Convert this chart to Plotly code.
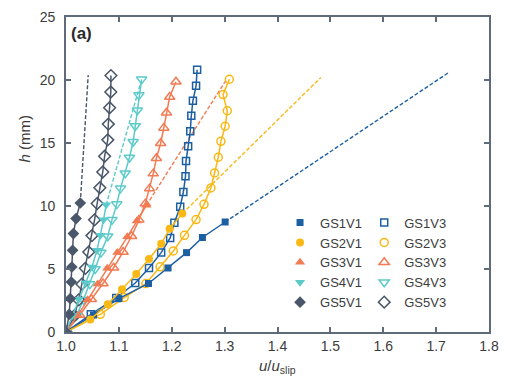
import plotly.graph_objects as go

# ---------------- data ----------------
names_v1 = ["GS1V1", "GS2V1", "GS3V1", "GS4V1", "GS5V1"]
names_v3 = ["GS1V3", "GS2V3", "GS3V3", "GS4V3", "GS5V3"]

gs1v1_u = [1.0, 1.052, 1.100, 1.156, 1.193, 1.228, 1.258, 1.301]
gs1v1_h = [0, 1.35, 2.65, 3.85, 5.08, 6.3, 7.5, 8.73]
gs2v1_u = [1.0, 1.046, 1.079, 1.106, 1.133, 1.157, 1.180, 1.196, 1.220]
gs2v1_h = [0, 1.0, 2.2, 3.4, 4.6, 5.8, 7.0, 8.2, 9.4]
gs3v1_u = [1.0, 1.022, 1.041, 1.060, 1.078, 1.097, 1.116, 1.134, 1.152]
gs3v1_h = [0, 1.3, 2.55, 3.8, 5.05, 6.3, 7.55, 8.8, 10.05]
gs4v1_u = [1.0, 1.012, 1.024, 1.037, 1.049, 1.0586, 1.065, 1.071, 1.076]
gs4v1_h = [0, 1.3, 2.6, 3.9, 5.16, 6.48, 7.67, 8.9, 10.1]
gs5v1_u = [1.0, 1.006, 1.008, 1.010, 1.011, 1.0125, 1.014, 1.019, 1.027]
gs5v1_h = [0, 1.40, 2.65, 3.97, 5.16, 6.48, 7.81, 9.0, 10.24]

gs1v3_u = [1.0, 1.047, 1.095, 1.131, 1.157, 1.180, 1.197, 1.205, 1.216, 1.222,
           1.226, 1.227, 1.231, 1.235, 1.237, 1.240, 1.246, 1.248]
gs1v3_h = [0, 1.40, 2.70, 3.89, 5.08, 6.30, 7.46, 8.68, 9.94, 11.11,
           12.36, 13.57, 14.74, 15.93, 17.16, 18.35, 19.54, 20.81]
gs2v3_u = [1.0, 1.065, 1.110, 1.151, 1.178, 1.203, 1.224, 1.246, 1.261, 1.274,
           1.281, 1.288, 1.293, 1.301, 1.305, 1.297, 1.309]
gs2v3_h = [0, 1.40, 2.73, 3.84, 5.17, 6.43, 7.67, 8.92, 10.13, 11.43,
           12.62, 13.87, 15.13, 16.33, 17.56, 18.84, 20.06]
gs3v3_u = [1.0, 1.026, 1.048, 1.070, 1.090, 1.108, 1.124, 1.138, 1.150, 1.158,
           1.165, 1.171, 1.179, 1.185, 1.190, 1.196, 1.208]
gs3v3_h = [0, 1.35, 2.6, 3.85, 5.1, 6.35, 7.6, 8.9, 10.19, 11.38,
           12.57, 13.79, 14.98, 16.2, 17.4, 18.65, 19.86]
gs4v3_u = [1.0, 1.020, 1.033, 1.045, 1.055, 1.066, 1.079, 1.087, 1.096, 1.103,
           1.112, 1.120, 1.127, 1.131, 1.135, 1.138, 1.143]
gs4v3_h = [0, 1.3, 2.55, 3.8, 5.0, 6.3, 7.6, 8.9, 10.15, 11.4,
           12.6, 13.85, 15.1, 16.35, 17.6, 18.8, 20.05]
gs5v3_u = [1.0, 1.016, 1.024, 1.030, 1.0365, 1.043, 1.049, 1.054, 1.059, 1.064,
           1.0695, 1.073, 1.079, 1.080, 1.0825, 1.0847, 1.085]
gs5v3_h = [0, 1.3, 2.55, 3.8, 5.05, 6.35, 7.65, 8.9, 10.2, 11.45,
           12.7, 13.95, 15.25, 16.5, 17.8, 19.05, 20.35]

# top end of the dashed extrapolation of each V1 series
ext_u_top = [1.724, 1.482, 1.303, 1.142, 1.042]
ext_h_top = [20.6, 20.2, 20.0, 19.9, 20.4]

x_ticks = [1.0, 1.1, 1.2, 1.3, 1.4, 1.5, 1.6, 1.7, 1.8]
x_tick_labels = ["1.0", "1.1", "1.2", "1.3", "1.4", "1.5", "1.6", "1.7", "1.8"]
y_ticks = [0, 5, 10, 15, 20, 25]

# ---------------- styling ----------------
colors = ["#1d5fa3", "#f9b814", "#f37b53", "#5ccaca", "#4a5669"]
sym_v1 = ["square", "circle", "triangle-up", "triangle-down", "diamond"]
sym_v3 = ["square-open", "circle-open", "triangle-up-open", "triangle-down-open", "diamond-open"]
size_v1 = [7, 8, 9, 9, 9]
size_v3 = [7, 8, 9, 9, 9]

v1 = [(gs1v1_u, gs1v1_h), (gs2v1_u, gs2v1_h), (gs3v1_u, gs3v1_h), (gs4v1_u, gs4v1_h), (gs5v1_u, gs5v1_h)]
v3 = [(gs1v3_u, gs1v3_h), (gs2v3_u, gs2v3_h), (gs3v3_u, gs3v3_h), (gs4v3_u, gs4v3_h), (gs5v3_u, gs5v3_h)]

fig = go.Figure()

# dashed extrapolations
for i, (u, h) in enumerate(v1):
    fig.add_trace(go.Scatter(x=[u[-1], ext_u_top[i]], y=[h[-1], ext_h_top[i]], mode="lines",
                             line=dict(color=colors[i], width=1.4, dash="4px,2px"),
                             showlegend=False, hoverinfo="skip"))

# V3 series
for i, (u, h) in enumerate(v3):
    fig.add_trace(go.Scatter(x=u, y=h, mode="lines", line=dict(color=colors[i], width=1.5),
                             showlegend=False, hoverinfo="skip"))
    fig.add_trace(go.Scatter(x=u, y=h, mode="markers", name=names_v3[i], legend="legend2",
                             marker=dict(symbol=sym_v3[i], size=size_v3[i], color=colors[i],
                                         line=dict(width=1.5, color=colors[i]))))
# V1 series
for i, (u, h) in enumerate(v1):
    fig.add_trace(go.Scatter(x=u, y=h, mode="lines", line=dict(color=colors[i], width=1.5),
                             showlegend=False, hoverinfo="skip"))
    fig.add_trace(go.Scatter(x=u, y=h, mode="markers", name=names_v1[i], legend="legend",
                             marker=dict(symbol=sym_v1[i], size=size_v1[i], color=colors[i],
                                         line=dict(width=0))))

axis_col = "#5f6b7a"
font_col = "#3c3c3c"
fam = "Liberation Sans, Arial, sans-serif"
common_axis = dict(showline=True, linecolor=axis_col, linewidth=1.8, mirror="ticks",
                   ticks="inside", ticklen=5, tickwidth=1.5, tickcolor=axis_col,
                   showgrid=False, zeroline=False, automargin=False,
                   tickfont=dict(family=fam, size=14, color=font_col))

# the page adds an 8 px body margin, so the figure is 8 px smaller and shifted
fig.update_layout(
    width=500, height=375,
    margin=dict(l=58, r=19, t=9, b=51, autoexpand=False),
    paper_bgcolor="white", plot_bgcolor="white",
    font=dict(family=fam, color=font_col),
    xaxis=dict(range=[1.0, 1.8], tickvals=x_ticks, ticktext=x_tick_labels,
               **common_axis),
    yaxis=dict(range=[0, 25], tickvals=y_ticks, ticklabelstandoff=6,
               **common_axis),
    legend=dict(x=0.506, y=0.395, xanchor="left", yanchor="top", bgcolor="rgba(0,0,0,0)",
                font=dict(family=fam, size=13, color=font_col), tracegroupgap=0),
    legend2=dict(x=0.705, y=0.395, xanchor="left", yanchor="top", bgcolor="rgba(0,0,0,0)",
                 font=dict(family=fam, size=13, color=font_col), tracegroupgap=0),
    annotations=[
        dict(text="<b>(a)</b>", xref="paper", yref="paper", x=0.007, y=0.983,
             xanchor="left", yanchor="top", showarrow=False,
             font=dict(family=fam, size=17, color="#2a2a2a")),
        dict(text="<i>u</i>/<i>u</i><sub>slip</sub>", xref="paper", yref="paper", x=0.5, y=-0.11,
             xanchor="center", yanchor="middle", showarrow=False,
             font=dict(family=fam, size=15, color=font_col)),
        dict(text="<i>h</i> (mm)", xref="paper", yref="paper", x=-0.099, y=0.615,
             xanchor="center", yanchor="middle", textangle=-90, showarrow=False,
             font=dict(family=fam, size=15, color=font_col)),
    ],
)

fig.write_html("out.html")
